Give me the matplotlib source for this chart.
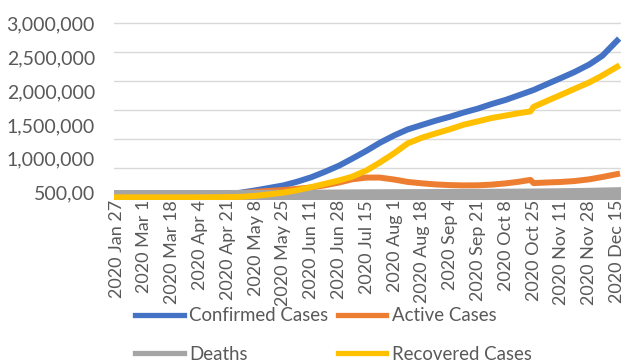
import matplotlib
matplotlib.use('Agg')
import matplotlib.pyplot as plt

plt.rcParams['font.family'] = ['Lato', 'DejaVu Sans']

# category axis: one category per reported day, a label every 17th one
tick_labels = ['2020 Jan 27', '2020 Mar 1', '2020 Mar 18', '2020 Apr 4',
               '2020 Apr 21', '2020 May 8', '2020 May 25', '2020 Jun 11',
               '2020 Jun 28', '2020 Jul 15', '2020 Aug 1', '2020 Aug 18',
               '2020 Sep 4', '2020 Sep 21', '2020 Oct 8', '2020 Oct 25',
               '2020 Nov 11', '2020 Nov 28', '2020 Dec 15']
tick_step = 17

# category index of each sampled day
day_idx = [0, 8, 17, 25, 34, 42, 51, 59, 68, 76, 85, 93, 102, 110, 119, 127,
           136, 144, 153, 161, 170, 178, 187, 195, 204, 212, 221, 229, 238,
           246, 253, 255, 263, 272, 280, 289, 297, 306]

# counts in thousands
confirmed = [0, 0, 0, 1, 2, 5, 10, 25, 50, 80, 120, 160, 205, 265, 345, 435,
             545, 665, 805, 940, 1070, 1170, 1250, 1320, 1390, 1460, 1530,
             1605, 1680, 1760, 1830, 1850, 1950, 2060, 2160, 2290, 2440, 2700]
active = [0, 0, 0, 1, 2, 5, 10, 24, 46, 72, 95, 110, 125, 145, 170, 205,
          255, 310, 340, 340, 305, 265, 240, 222, 210, 205, 207, 218, 240,
          268, 300, 245, 255, 265, 280, 310, 350, 400]
deaths = [0, 0, 0, 0, 0, 0, 0, 0, 0.5, 1, 2, 3, 3.5, 5, 6, 7.5, 9, 10.5, 12,
          13, 14, 15, 16, 17, 18, 19, 20, 21.5, 23, 24.5, 25.5, 26, 28, 31,
          34, 38, 43, 48]
recovered = [0, 0, 0, 0, 0, 0, 0, 1, 4, 8, 25, 50, 80, 120, 175, 230, 290,
             355, 465, 600, 765, 930, 1030, 1100, 1175, 1250, 1310, 1365,
             1410, 1450, 1480, 1560, 1660, 1770, 1870, 1980, 2100, 2250]

y_labels = ['3,000,000', '2,500,000', '2,000,000', '1,500,000', '1,000,000',
            '500,00']
y_label_vals = [3000000, 2500000, 2000000, 1500000, 1000000, 500000]

BLUE = '#4472C4'
ORANGE = '#ED7D31'
GRAY = '#A5A5A5'
YELLOW = '#FFC000'
TXT = '#595959'

W, H = 628, 361
fig = plt.figure(figsize=(W / 100, H / 100), dpi=100)
rect = [114 / W, (H - 200) / H, (620.5 - 114) / W, 180 / H]

# value labels on their own axis
lab = fig.add_axes(rect)
lab.set_ylim(392300, 3048700)
lab.set_yticks(y_label_vals)
lab.set_yticklabels(y_labels)
lab.tick_params(axis='y', length=0, pad=13.7, labelsize=14, labelcolor=TXT)
lab.set_xticks([])
lab.patch.set_visible(False)
for s in lab.spines.values():
    s.set_visible(False)

ax = fig.add_axes(rect)
ax.patch.set_visible(False)
k = 1000
lw = 4.3
ax.plot(day_idx, [v * k for v in confirmed], color=BLUE, lw=lw,
        label='Confirmed Cases', zorder=3)
ax.plot(day_idx, [v * k for v in active], color=ORANGE, lw=lw,
        label='Active Cases', zorder=4)
ax.plot(day_idx, [v * k for v in deaths], color=GRAY, lw=10.5,
        label='Deaths', zorder=5)
ax.plot(day_idx, [v * k for v in recovered], color=YELLOW, lw=lw,
        label='Recovered Cases', zorder=6)

ax.set_xlim(-1.53, 308.1)
ax.set_ylim(-46600, 3056900)
ax.set_yticks(y_label_vals)
ax.set_yticklabels([])
ax.tick_params(axis='y', length=0)
ax.grid(axis='y', color='#D9D9D9', lw=1.0, zorder=0)
ax.set_axisbelow(True)

ticks = [i * tick_step for i in range(len(tick_labels))]
ax.set_xticks(ticks)
ax.set_xticklabels(tick_labels, rotation=90, va='top', ha='center')
ax.tick_params(axis='x', length=0, pad=0, labelsize=13, labelcolor=TXT)
for s in ax.spines.values():
    s.set_visible(False)

h, l = ax.get_legend_handles_labels()
order = [0, 2, 1, 3]
leg = ax.legend([h[i] for i in order], [l[i] for i in order], ncol=2,
                loc='upper left', bbox_to_anchor=(126 / W, 1 - 298 / H),
                bbox_transform=fig.transFigure, frameon=False,
                fontsize=13.4, borderpad=0, handlelength=2.6,
                handletextpad=0.3, columnspacing=0.5, labelspacing=1.15)
for t in leg.get_texts():
    t.set_color(TXT)
for ln in leg.get_lines():
    ln.set_linewidth(3.8)

fig.savefig('out.png', dpi=100)
